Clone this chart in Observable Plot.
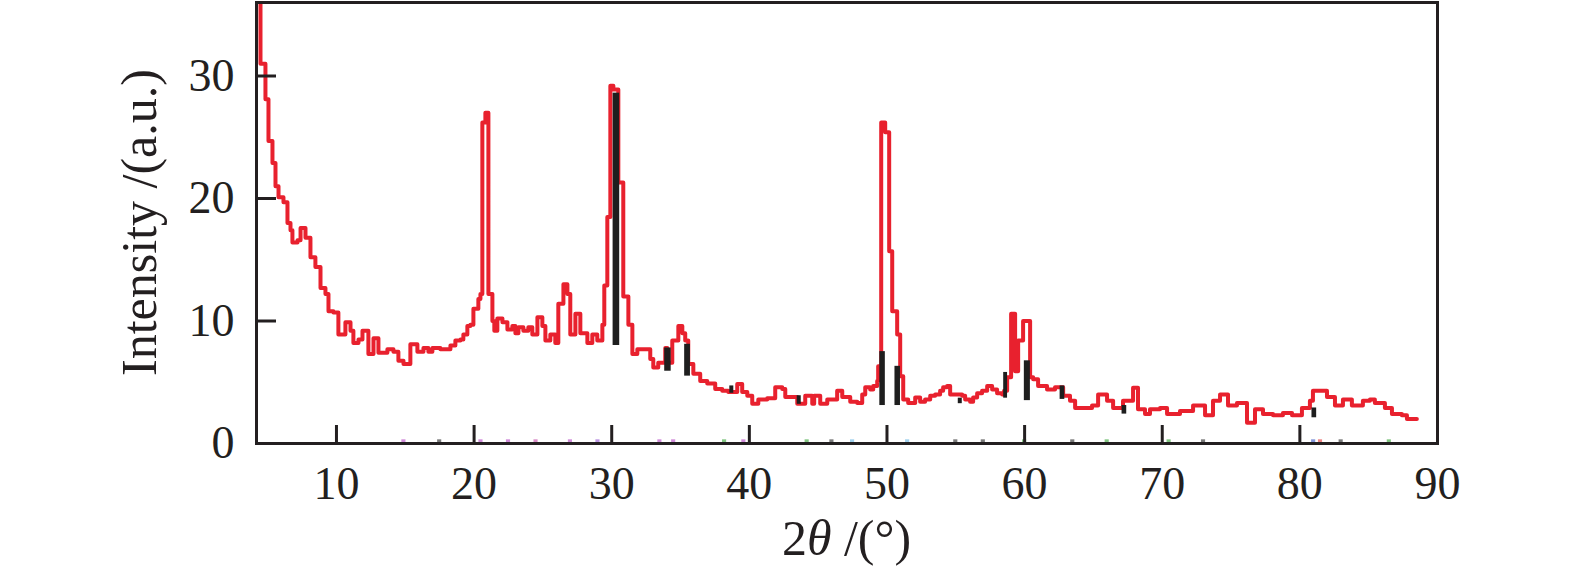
<!DOCTYPE html>
<html><head><meta charset="utf-8">
<script src="https://cdn.jsdelivr.net/npm/d3@7"></script>
<script src="https://cdn.jsdelivr.net/npm/@observablehq/plot@0.6"></script>
<style>html,body{margin:0;padding:0;background:#fff;overflow:hidden}</style>
</head><body><div id="chart"></div>
<script>
// XRD pattern (red step curve): 2θ (°) and intensity (a.u.)
const twoTheta = [4.2,4.48,4.84,5.06,5.35,5.57,5.79,6.15,6.44,6.66,6.80,7.17,7.39,7.75,8.11,8.47,8.84,9.20,9.42,9.78,
10.14,10.65,11.02,11.23,11.60,11.89,12.32,12.69,13.05,13.70,14.14,14.50,14.87,15.37,15.88,16.32,16.68,16.97,17.55,18.28,
18.64,19.01,19.22,19.51,19.73,19.95,20.31,20.46,20.60,20.82,21.04,21.33,21.47,21.69,22.06,22.42,22.78,23.00,23.22,23.58,
23.94,24.23,24.60,24.96,25.18,25.54,25.90,26.12,26.49,26.78,26.99,27.36,27.72,28.23,28.59,28.95,29.32,29.46,29.68,29.90,
30.12,30.48,30.84,31.21,31.50,31.86,32.80,33.02,33.38,33.89,34.04,34.40,34.84,35.13,35.34,35.56,35.93,36.43,36.94,37.52,
38.03,38.47,39.12,39.48,39.85,40.21,40.65,41.30,41.88,42.39,42.61,43.48,44.06,44.57,44.71,45.15,45.66,46.38,46.75,47.33,
47.84,48.20,48.42,48.78,49.00,49.29,49.36,49.58,49.87,50.16,50.38,50.74,50.96,51.18,51.54,52.05,52.41,52.77,53.14,53.50,
53.86,54.08,54.37,54.59,55.10,55.46,55.68,56.04,56.26,56.55,56.91,57.28,57.64,58.00,58.37,58.51,58.73,59.02,59.31,59.53,
59.89,60.40,60.62,60.98,61.63,62.21,62.80,63.30,63.67,64.90,65.34,65.99,66.43,67.15,67.88,68.24,68.75,69.11,69.84,70.35,
71.29,72.24,73.11,73.69,74.20,74.78,75.43,76.16,76.74,77.32,78.05,78.77,79.43,80.15,80.73,80.95,81.97,82.55,83.13,83.78,
84.58,85.09,85.45,86.18,86.69,87.41,87.78,88.50];
const intensity = [37,31.0,28.1,24.7,22.9,21.0,20.1,19.7,18.0,17.4,16.4,16.6,17.6,16.8,15.2,14.4,12.7,12.2,10.8,10.7,
8.9,9.9,9.2,8.2,8.5,9.2,7.3,8.6,7.4,7.7,7.5,6.75,6.5,8.1,7.5,7.8,7.5,7.8,7.7,8.0,
8.4,8.5,8.9,9.6,9.7,11.0,11.8,12.2,26.2,27.0,12.2,10.0,9.2,10.2,9.9,9.3,9.6,9.0,9.5,9.2,
9.5,8.9,10.3,9.6,8.4,8.9,8.2,11.4,13.0,12.2,8.9,10.6,9.0,8.2,8.9,8.4,9.7,12.9,18.5,29.2,
28.9,21.3,12.0,9.7,7.3,7.7,6.9,6.2,6.6,7.8,6.6,8.4,9.6,9.0,8.4,6.5,5.7,5.1,4.9,4.45,
4.3,4.2,4.85,4.2,3.9,3.25,3.6,3.7,4.6,4.45,3.8,3.25,3.9,3.25,3.9,3.25,3.6,4.3,3.8,3.4,
3.3,4.0,4.6,4.4,4.7,5.1,6.3,26.2,25.4,15.7,10.8,8.9,5.5,3.6,3.3,3.75,3.4,3.6,3.9,4.0,
4.3,4.6,4.7,4.0,4.0,3.9,3.6,3.4,3.75,4.1,4.3,4.7,4.4,4.1,4.0,4.3,5.4,10.6,5.9,8.4,
10.0,5.4,5.25,4.7,4.4,4.6,3.9,3.5,2.9,3.1,4.0,3.5,2.9,3.5,4.55,2.8,2.4,2.8,2.9,2.4,
2.65,3.1,2.3,3.5,4.0,3.1,3.3,1.7,2.8,2.4,2.3,2.5,2.3,2.9,3.5,4.3,3.8,3.1,3.6,3.1,
3.5,3.6,3.3,2.9,2.4,2.3,2.0,2.0];

// Reference pattern (black bars)
const barStart = [30.10,33.85,35.30,38.58,43.48,49.48,50.58,55.18,58.48,59.98,62.58,67.08,80.88];
const barEnd   = [30.58,34.32,35.72,38.87,43.77,49.88,50.98,55.47,58.76,60.42,62.92,67.42,81.22];
const barLow   = [8.0,5.9,5.5,4.1,3.2,3.1,3.1,3.25,3.7,3.5,3.6,2.4,2.1];
const barHigh  = [28.6,7.8,8.1,4.7,3.9,7.5,6.3,3.7,5.8,6.75,4.7,3.1,2.9];

// Faint markers of other phases near the baseline
const markX = [14.9,17.5,20.5,22.5,24.5,27.0,29.0,33.5,34.5,38.2,39.6,44.2,46.0,47.5,51.5,55.0,57.0,60.0,63.5,66.0,70.5,73.0,81.0,81.5,83.0,86.5];
const markColor = ["#b040c0","#222","#b040c0","#b040c0","#c040a0","#b040c0","#9050d0","#b040c0","#b040c0","#30a030","#b040c0","#30a030","#222","#60b0e0","#60b0e0","#222","#222","#30a030","#222","#30a030","#30a030","#222","#3050c0","#e03030","#222","#30a030"];

const xTicks = [10,20,30,40,50,60,70,80,90];
const yTicks = [0,10,20,30];

const spectrum = twoTheta.map((x, i) => ({x, y: intensity[i]}));
const bars = barStart.map((x1, i) => ({x1, x2: barEnd[i], y1: barLow[i], y2: barHigh[i]}));
const marks0 = markX.map((x, i) => ({x1: x - 0.15, x2: x + 0.15, c: markColor[i]}));

const W = 1575, H = 573, mL = 256, mR = 138, mT = 2, mB = 130;
const ink = "#231f20";
const font = "'Liberation Serif','Times New Roman',serif";

const plot = Plot.plot({
  width: W, height: H,
  marginLeft: mL, marginRight: mR, marginTop: mT, marginBottom: mB,
  style: {fontFamily: font, fontSize: "46px", color: ink, background: "#fff"},
  x: {domain: [4.19, 90], ticks: xTicks, tickSize: 0, tickPadding: 23, label: null, tickFormat: d => String(d)},
  y: {domain: [0, 36], ticks: yTicks, tickSize: 0, tickPadding: 22, label: null, tickFormat: d => String(d)},
  marks: [
    Plot.rect(marks0, {x1: "x1", x2: "x2", y1: 0, y2: 0.3, fill: "c", fillOpacity: 0.6}),
    Plot.line(spectrum, {x: "x", y: "y", curve: "step-after", stroke: "#e8212e", strokeWidth: 4, clip: true}),
    Plot.rect(bars, {x1: "x1", x2: "x2", y1: "y1", y2: "y2", fill: "#1e1e1e"}),
    Plot.ruleX(xTicks, {stroke: ink, strokeWidth: 3, insetTop: (H - mT - mB) - 18}),
    Plot.ruleY(yTicks, {stroke: ink, strokeWidth: 3, insetRight: (W - mL - mR) - 20}),
    Plot.frame({stroke: ink, strokeWidth: 3})
  ]
});
document.getElementById("chart").appendChild(plot);

const svg = d3.select(plot);
svg.append("text")
  .attr("transform", `translate(156,${(mT + H - mB) / 2}) rotate(-90)`)
  .attr("text-anchor", "middle")
  .attr("font-family", font).attr("font-size", 50).attr("fill", ink)
  .text("Intensity /(a.u.)");
const xl = svg.append("text")
  .attr("x", (mL + W - mR) / 2).attr("y", 555)
  .attr("text-anchor", "middle")
  .attr("font-family", font).attr("font-size", 50).attr("fill", ink);
xl.append("tspan").text("2");
xl.append("tspan").attr("font-style", "italic").text("θ");
xl.append("tspan").text(" /(°)");
</script>
</body></html>
